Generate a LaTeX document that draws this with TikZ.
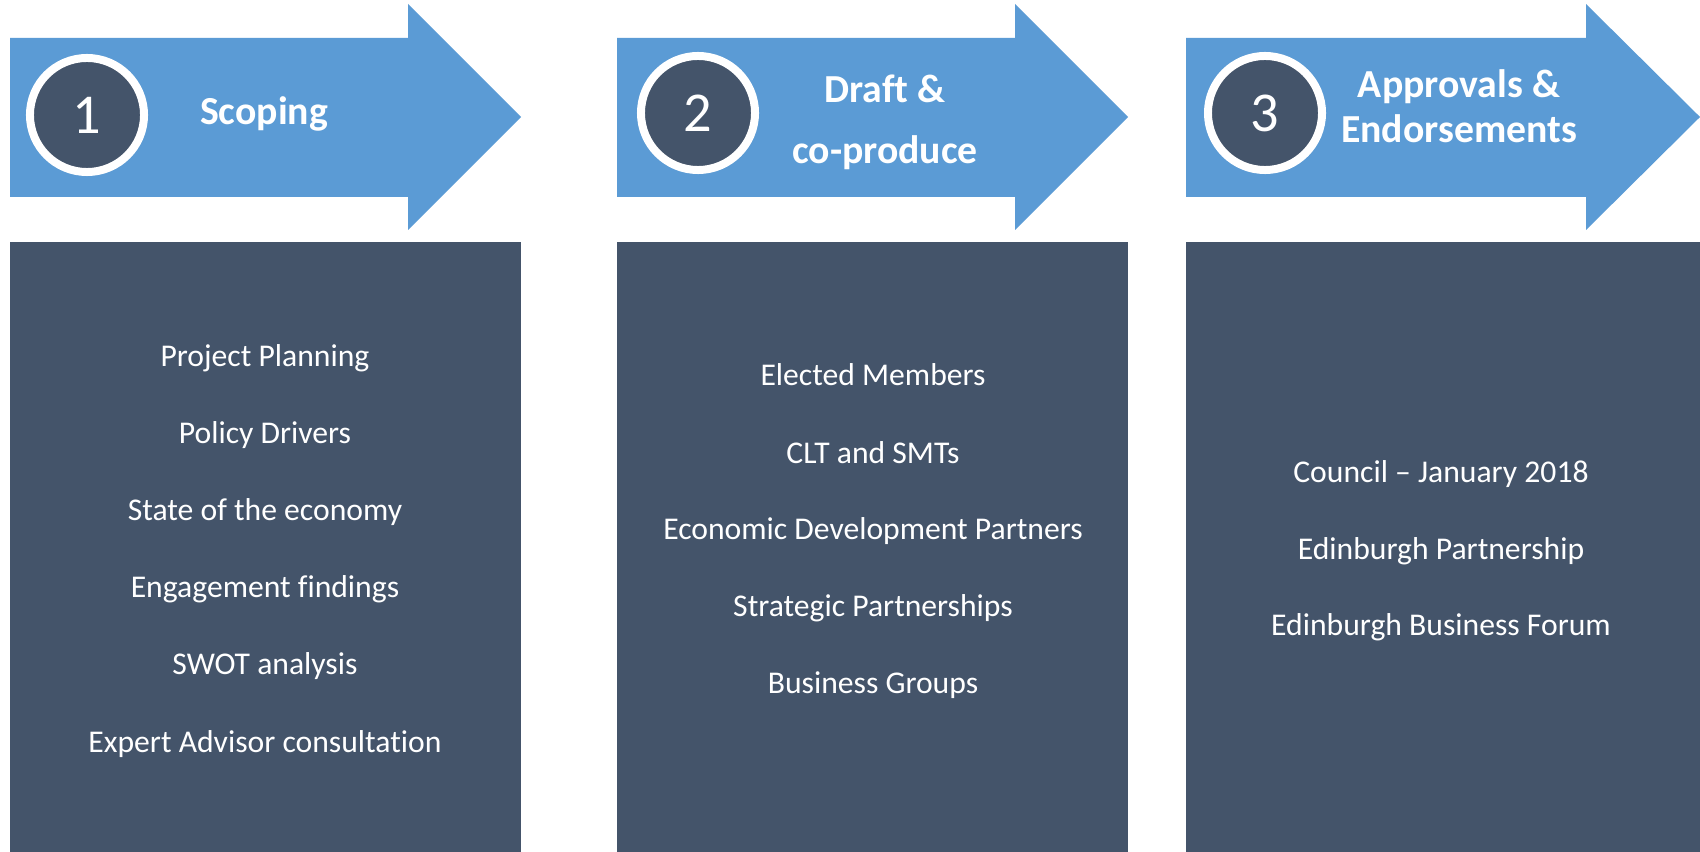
\documentclass[tikz,border=0pt]{standalone}
\usepackage{fontspec}
\setmainfont{Carlito}[Ligatures=CommonOff]
\usepackage{tikz}

\definecolor{stepblue}{HTML}{5B9BD5}
\definecolor{slate}{HTML}{44546A}

\tikzset{
  numcirc/.style={circle,fill=slate,draw=white,line width=2.27pt,minimum size=1.14cm,inner sep=0pt,
    text=white,font=\fontsize{16}{16}\selectfont},
  steptitle/.style={anchor=base,text=white,font=\fontsize{11.3}{13}\selectfont\bfseries},
  item/.style={anchor=base,text=white,font=\fontsize{9}{11}\selectfont}
}

\begin{document}
\begin{tikzpicture}[x=0.01cm,y=-0.01cm]
      \useasboundingbox (0,0) rectangle (1700,852);

      % arrows
      \fill[stepblue] (10,38) -- (408,38) -- (408,4) -- (521,117) -- (408,230) -- (408,197) -- (10,197) -- cycle;
      \fill[stepblue] (617,38) -- (1015,38) -- (1015,4) -- (1128,117) -- (1015,230) -- (1015,197) -- (617,197) -- cycle;
      \fill[stepblue] (1186,38) -- (1586,38) -- (1586,4) -- (1700,117) -- (1586,230) -- (1586,197) -- (1186,197) -- cycle;

      % boxes
      \fill[slate] (10,242) rectangle (521,852);
      \fill[slate] (617,242) rectangle (1128,852);
      \fill[slate] (1186,242) rectangle (1700,852);

      \node[numcirc] (n1) at (87,115) {1};
      \node[numcirc] (n2) at (698,113) {2};
      \node[numcirc] (n3) at (1265,113) {3};

      \node[steptitle] (scoping) at (264,125) {Scoping};
      \node[steptitle] (draft) at (885,103) {Draft \&};
      \node[steptitle] (coprod) at (885,164) {co-produce};
      \node[steptitle] (approv) at (1459,98) {Approvals \&};
      \node[steptitle] (endors) at (1459,143) {Endorsements};

      \node[item] (a1) at (265,367) {Project Planning};
      \node[item] (a2) at (265,444) {Policy Drivers};
      \node[item] (a3) at (265,520) {State of the economy};
      \node[item] (a4) at (265,597) {Engagement findings};
      \node[item] (a5) at (265,674) {SWOT analysis};
      \node[item] (a6) at (265,752) {Expert Advisor consultation};

      \node[item] (b1) at (873,386) {Elected Members};
      \node[item] (b2) at (873,463) {CLT and SMTs};
      \node[item] (b3) at (873,539) {Economic Development Partners};
      \node[item] (b4) at (873,616) {Strategic Partnerships};
      \node[item] (b5) at (873,693) {Business Groups};

      \node[item] (c1) at (1441,482) {Council -- January 2018};
      \node[item] (c2) at (1441,559) {Edinburgh Partnership};
      \node[item] (c3) at (1441,635) {Edinburgh Business Forum};
    \end{tikzpicture}
\end{document}
